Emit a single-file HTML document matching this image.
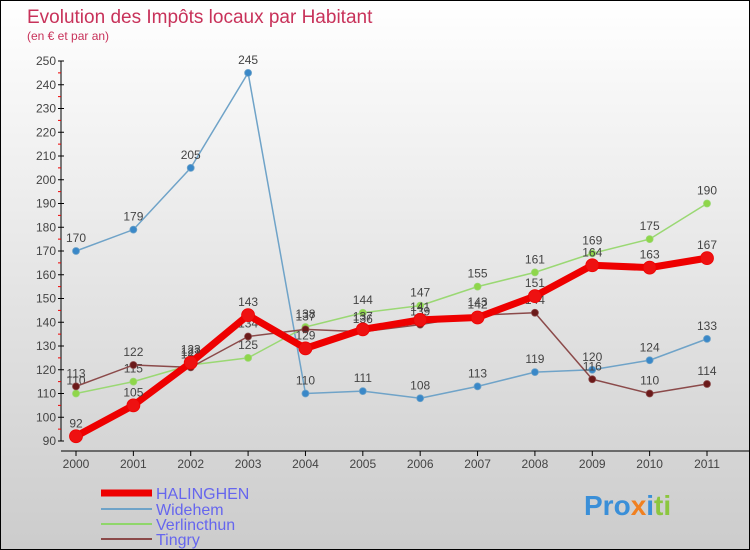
<!DOCTYPE html>
<html><head><meta charset="utf-8"><style>
body{margin:0}
#c{width:750px;height:550px;position:relative;box-sizing:border-box;border:1px solid #000;background:linear-gradient(#fff,#ccc);font-family:"Liberation Sans",sans-serif;overflow:hidden}
</style></head><body>
<div id="c">
<svg id="s" width="748" height="548" xmlns="http://www.w3.org/2000/svg">
<text x="26" y="22" font-size="19" fill="#c8325a">Evolution des Impôts locaux par Habitant</text>
<text x="26" y="39" font-size="12" fill="#c8325a">(en € et par an)</text>
<g id="axes"></g><g id="series"></g>
<g font-size="16" fill="#6666ee">
<line x1="100" y1="492" x2="151" y2="492" stroke="#e00" stroke-width="7"/><text x="155" y="498">HALINGHEN</text>
<line x1="100" y1="508" x2="151" y2="508" stroke="#6fa3c8" stroke-width="2"/><text x="155" y="514">Widehem</text>
<line x1="100" y1="523" x2="151" y2="523" stroke="#8fd66a" stroke-width="2"/><text x="155" y="529">Verlincthun</text>
<line x1="100" y1="538" x2="151" y2="538" stroke="#8b4a4a" stroke-width="2"/><text x="155" y="544">Tingry</text>
</g>
<text x="583" y="514" font-size="28" font-weight="bold"><tspan fill="#3a8fd8">Pro</tspan><tspan fill="#f08020">x</tspan><tspan fill="#3a8fd8">i</tspan><tspan fill="#8cc63f">ti</tspan></text>
</svg></div>
<script>
const years=[2000,2001,2002,2003,2004,2005,2006,2007,2008,2009,2010,2011];
const halinghen=[92,105,123,143,129,137,141,142,151,164,163,167];
const widehem=[170,179,205,245,110,111,108,113,119,120,124,133];
const verlincthun=[110,115,122,125,138,144,147,155,161,169,175,190];
const tingry=[113,122,121,134,137,136,139,143,144,116,110,114];
const yTicks=[90,100,110,120,130,140,150,160,170,180,190,200,210,220,230,240,250];
const NS="http://www.w3.org/2000/svg";
const X=i=>75+i*(706-75)/(years.length-1);
const Y=v=>440-(v-90)*(440-60)/(250-90);
function mk(tag,attrs,parent,txt){const e=document.createElementNS(NS,tag);for(const k in attrs)e.setAttribute(k,attrs[k]);if(txt!==undefined)e.textContent=txt;parent.appendChild(e);return e;}
const ax=document.getElementById('axes');
let a=mk('line',{x1:60,y1:Y(250),x2:60,y2:Y(90),stroke:'#000'},ax);


a=mk('line',{x1:60,y1:450,x2:748,y2:450,stroke:'#000'},ax);


yTicks.forEach((t,i)=>{
 mk('line',{x1:57,y1:Y(t),x2:63,y2:Y(t),stroke:'#000'},ax);
 if(i<yTicks.length-1)mk('line',{x1:57,y1:Y(t+5),x2:60,y2:Y(t+5),stroke:'#e00'},ax);
 const l=mk('text',{x:55,y:Y(t)+4,'font-size':12,fill:'#444','text-anchor':'end'},ax,t);
 
 
});
years.forEach((yr,i)=>{
 mk('line',{x1:X(i),y1:450,x2:X(i),y2:455,stroke:'#000'},ax);
 const l=mk('text',{x:X(i),y:467,'font-size':12,fill:'#444','text-anchor':'middle'},ax,yr);
 
 
});
const sg=document.getElementById('series');
function draw(data,name,color,w,r,dot){
 const g=mk('g',{},sg);
 
 
 const p=mk('polyline',{points:data.map((v,i)=>X(i)+','+Y(v)).join(' '),fill:'none',stroke:color,'stroke-width':w,'stroke-linejoin':'round'},g);
 
 
 data.forEach((v,i)=>{
  const c=mk('circle',{cx:X(i),cy:Y(v),r:r,fill:dot,stroke:color,'stroke-width':0.8},g);
  
  
  const t=mk('text',{x:X(i),y:Y(v)-9,'font-size':12,fill:'#444','text-anchor':'middle'},g,v);
  
  
 });
}
draw(widehem,'widehem','#6fa3c8',1.5,3.5,'#3a88c8');
draw(verlincthun,'verlincthun','#9ad873',1.5,3.5,'#8fd64a');
draw(tingry,'tingry','#8b4a4a',1.5,3.5,'#6b1a1a');
draw(halinghen,'halinghen','#ee0000',7,6.5,'#ee1111');
</script></body></html>
